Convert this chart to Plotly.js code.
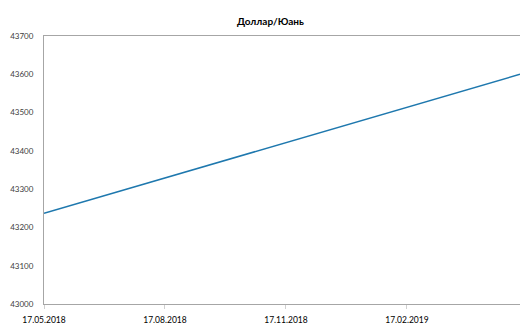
<!DOCTYPE html>
<html>
<head>
<meta charset="utf-8">
<script src="https://cdn.plot.ly/plotly-3.0.1.min.js"></script>
<style>html,body{margin:0;padding:0;background:#fff;}</style>
</head>
<body>
<div id="chart" style="width:520px;height:325px;"></div>
<script>
const dates = ["2018-05-17", "2019-05-14"];
const values = [43237, 43600];
const xTicks = ["2018-05-17", "2018-08-17", "2018-11-17", "2019-02-17"];
const xTickLabels = ["17.05.2018", "17.08.2018", "17.11.2018", "17.02.2019"];
const yTicks = [43000, 43100, 43200, 43300, 43400, 43500, 43600, 43700];
const yTickLabels = ["43000", "43100", "43200", "43300", "43400", "43500", "43600", "43700"];

const trace = {
  x: dates, y: values, type: "scatter", mode: "lines",
  line: {color: "#1E78AE", width: 1.5},
  hoverinfo: "skip"
};
const layout = {
  width: 520, height: 325,
  margin: {l: 44, r: 0, t: 36, b: 21},
  paper_bgcolor: "#fff", plot_bgcolor: "#fff",
  font: {family: "Lato, 'Liberation Sans', sans-serif", color: "#404040", size: 8},
  title: {text: "<b>Доллар/Юань</b>", font: {size: 10, color: "#000"}, x: 0.52, xanchor: "center", y: 0.935, yanchor: "middle"},
  showlegend: false,
  xaxis: {
    type: "date", range: [dates[0], dates[1]],
    tickmode: "array", tickvals: xTicks, ticktext: xTickLabels,
    tickangle: 0,
    showgrid: false, zeroline: false,
    showline: true, linecolor: "#A6A6A6", linewidth: 1, mirror: true,
    ticks: "outside", ticklen: 4, tickcolor: "#D0D0D0",
    ticklabelstandoff: 4,
    tickfont: {size: 8.5, color: "#000", family: "Lato, sans-serif"}
  },
  yaxis: {
    range: [43000, 43700],
    tickmode: "array", tickvals: yTicks, ticktext: yTickLabels,
    showgrid: false, zeroline: false,
    showline: true, linecolor: "#A6A6A6", linewidth: 1,
    ticks: "outside", ticklen: 8, tickcolor: "rgba(0,0,0,0)",
    tickfont: {size: 8, color: "#404040"}
  }
};
Plotly.newPlot("chart", [trace], layout, {staticPlot: true, displayModeBar: false});
</script>
</body>
</html>
